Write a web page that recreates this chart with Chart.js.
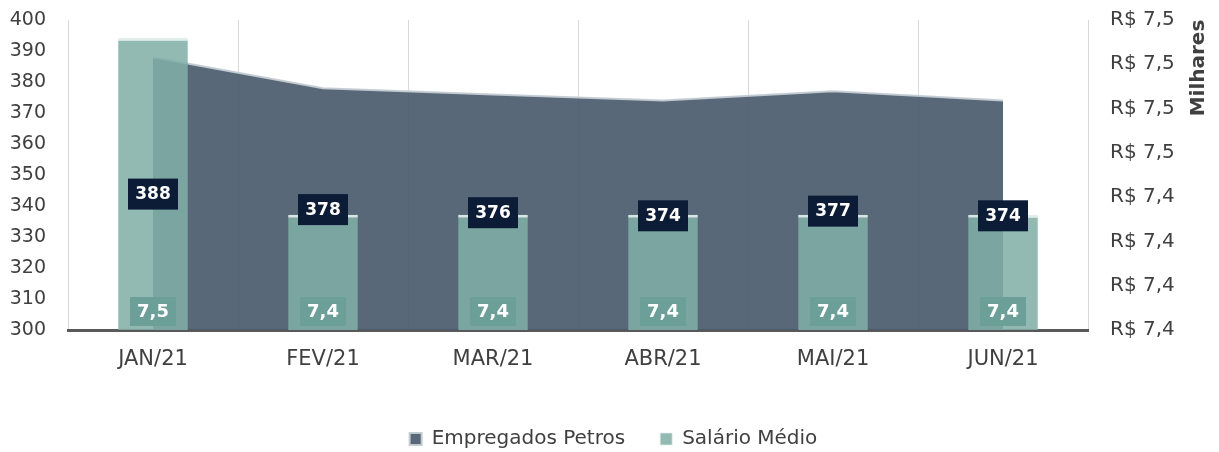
<!DOCTYPE html>
<html>
<head>
<meta charset="utf-8">
<script src="https://cdn.jsdelivr.net/npm/chart.js@4.4.1/dist/chart.umd.min.js"></script>
<style>
  html, body { margin: 0; padding: 0; background: #fff; }
  #wrap { width: 1219px; height: 452px; }
</style>
</head>
<body>
<div id="wrap"><canvas id="grafico"></canvas></div>
<script>
  // dados
  const meses = ['JAN/21', 'FEV/21', 'MAR/21', 'ABR/21', 'MAI/21', 'JUN/21'];
  const empregados = [388, 378, 376, 374, 377, 374];
  const salarioMedio = [7.476, 7.436, 7.436, 7.436, 7.436, 7.436];
  const eixoEmpregados = [300, 400, 10];      // min, max, passo
  const eixoSalario = [7.41, 7.48, 0.01];    // min, max, passo (milhares)

  const fonte = '"DejaVu Sans", sans-serif';
  const cinza = '#404040';

  const fmt = v => (Math.round(v * 10) / 10).toFixed(1).replace('.', ',');

  // rotulos de dados + titulo do eixo direito
  const rotulos = {
    id: 'rotulos',
    afterDatasetsDraw(chart) {
      const { ctx, chartArea } = chart;
      const area = chart.getDatasetMeta(0);
      const barras = chart.getDatasetMeta(1);
      ctx.save();
      ctx.textAlign = 'center';
      ctx.textBaseline = 'middle';

      barras.data.forEach((bar, i) => {
        const cy = chartArea.bottom - 19;
        ctx.fillStyle = '#6b9f97';
        ctx.fillRect(bar.x - 23, cy - 14, 46, 29);
        ctx.fillStyle = '#ffffff';
        ctx.font = 'bold 18px ' + fonte;
        ctx.fillText(fmt(salarioMedio[i]), bar.x, cy + 1);
      });

      area.data.forEach((pt, i) => {
        const cy = (pt.y + chartArea.bottom) / 2;
        ctx.fillStyle = '#0c1c36';
        ctx.fillRect(pt.x - 25, cy - 15, 50, 31);
        ctx.fillStyle = '#ffffff';
        ctx.font = 'bold 17px ' + fonte;
        ctx.fillText(String(empregados[i]), pt.x, cy + 1);
      });

      ctx.translate(chartArea.right + 111, chartArea.top + 48);
      ctx.rotate(-Math.PI / 2);
      ctx.fillStyle = cinza;
      ctx.font = 'bold 20px ' + fonte;
      ctx.fillText('Milhares', 0, 0);
      ctx.restore();
    }
  };

  // largura fixa do eixo e sem folga extra no topo
  const ajustaEixo = largura => s => {
    s.width = largura;
    s.paddingTop = 10;
    s.paddingBottom = 10;
  };

  const ctx = document.getElementById('grafico').getContext('2d');
  new Chart(ctx, {
    type: 'bar',
    data: {
      labels: meses,
      datasets: [
        {
          type: 'line',
          label: 'Empregados Petros',
          data: empregados,
          yAxisID: 'y',
          order: 1,
          fill: 'start',
          backgroundColor: 'rgba(74,91,108,0.92)',
          borderColor: 'rgba(196,204,212,0.95)',
          borderWidth: 2,
          pointRadius: 0,
          tension: 0
        },
        {
          label: 'Salário Médio',
          data: salarioMedio,
          yAxisID: 'y1',
          order: 0,
          backgroundColor: 'rgba(128,175,167,0.86)',
          borderColor: 'rgba(222,236,233,0.95)',
          borderWidth: { top: 3, left: 0, right: 0, bottom: 0 },
          borderSkipped: 'start',
          categoryPercentage: 1,
          barPercentage: 0.41
        }
      ]
    },
    options: {
      responsive: true,
      maintainAspectRatio: false,
      animation: false,
      devicePixelRatio: 1,
      layout: { padding: { left: 8, right: 0, top: 20, bottom: -7 } },
      scales: {
        x: {
          grid: { color: '#d9d9d9', lineWidth: 1, drawTicks: false, offset: true },
          border: { display: true, color: '#595959', width: 3 },
          ticks: { color: cinza, font: { family: fonte, size: 21 }, padding: 17 },
          afterFit: s => { s.height = 64; }
        },
        y: {
          position: 'left',
          min: eixoEmpregados[0],
          max: eixoEmpregados[1],
          grid: { display: false, drawTicks: false },
          border: { display: false },
          ticks: { stepSize: eixoEmpregados[2], color: cinza, font: { family: fonte, size: 19 }, padding: 22 },
          afterFit: ajustaEixo(60)
        },
        y1: {
          position: 'right',
          min: eixoSalario[0],
          max: eixoSalario[1],
          grid: { display: false, drawOnChartArea: false, drawTicks: false },
          border: { display: false },
          ticks: {
            stepSize: eixoSalario[2],
            color: cinza,
            font: { family: fonte, size: 20 },
            padding: 22,
            callback: v => 'R$ ' + fmt(v)
          },
          afterFit: ajustaEixo(131)
        }
      },
      plugins: {
        legend: {
          position: 'bottom',
          labels: {
            boxWidth: 12,
            boxHeight: 12,
            padding: 35,
            color: cinza,
            font: { family: fonte, size: 20 },
            sort: (a, b) => a.datasetIndex - b.datasetIndex
          }
        },
        tooltip: { enabled: false }
      }
    },
    plugins: [rotulos]
  });
</script>
</body>
</html>
